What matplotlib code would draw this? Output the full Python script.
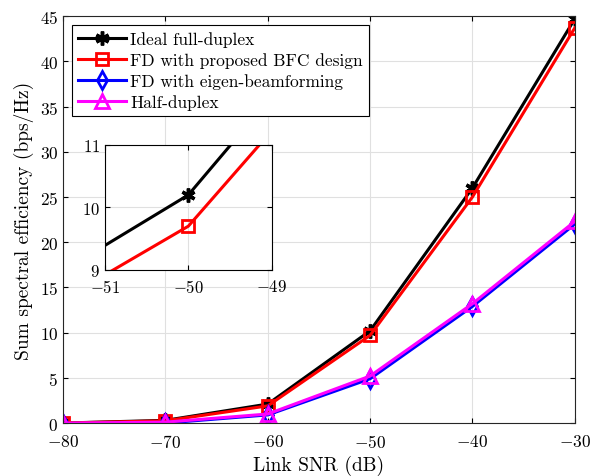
import matplotlib
matplotlib.use('Agg')
import matplotlib.pyplot as plt
import numpy as np

plt.rcParams['font.family'] = 'serif'
plt.rcParams['font.serif'] = ['cmr10', 'DejaVu Serif']
plt.rcParams['mathtext.fontset'] = 'cm'
plt.rcParams['axes.unicode_minus'] = False
plt.rcParams['axes.formatter.use_mathtext'] = True

snr = [-80, -70, -60, -50, -40, -30]
ideal_fd = [0.0, 0.3, 2.1, 10.2, 26.0, 44.7]
fd_bfc = [0.0, 0.25, 1.9, 9.7, 25.0, 43.7]
fd_eigen = [-0.1, 0.0, 0.9, 4.9, 12.9, 22.0]
half_duplex = [0.0, 0.1, 1.0, 5.2, 13.2, 22.3]

labels = ['Ideal full-duplex', 'FD with proposed BFC design',
          'FD with eigen-beamforming', 'Half-duplex']
xticks = [-80, -70, -60, -50, -40, -30]
yticks = list(range(0, 46, 5))

fig = plt.figure(figsize=(5.95, 4.77), dpi=100)
ax = fig.add_axes([0.106, 0.111, 0.860, 0.853])

star = (6, 2, 0)
ax.plot(snr, ideal_fd, color='k', marker=star, ms=10, mew=2.5, lw=2.2, label=labels[0])
ax.plot(snr, fd_bfc, color='r', marker='s', ms=9, mfc='none', mew=2, lw=2.2, label=labels[1])
ax.plot(snr, fd_eigen, color='b', marker='d', ms=9, mfc='none', mew=2, lw=2.2, label=labels[2])
ax.plot(snr, half_duplex, color='#ff00ff', marker='^', ms=10, mfc='none', mew=2, lw=2.2, label=labels[3])

ax.set_xlim(-80, -30)
ax.set_ylim(0, 45)
ax.set_xticks(xticks)
ax.set_yticks(yticks)
ax.tick_params(direction='in', labelsize=12.5, top=True, right=True)
ax.tick_params(axis='x', pad=7)
ax.grid(True, color='#e0e0e0', lw=0.8)
ax.set_axisbelow(True)
ax.set_xlabel('Link SNR (dB)', fontsize=14, labelpad=4)
ax.set_ylabel('Sum spectral efficiency (bps/Hz)', fontsize=14)
for s in ax.spines.values():
    s.set_color('#262626')

leg = ax.legend(loc='upper left', fontsize=12.5, fancybox=False, edgecolor='k',
                framealpha=1, handlelength=2.8, borderaxespad=0.5,
                labelspacing=0.3, handletextpad=0.2, borderpad=0.35)
leg.get_frame().set_linewidth(0.8)

# inset zoom around -50 dB
axin = fig.add_axes([0.176, 0.432, 0.281, 0.262])
axin.plot(snr, ideal_fd, color='k', marker=star, ms=10, mew=2.5, lw=2.2)
axin.plot(snr, fd_bfc, color='r', marker='s', ms=9, mfc='none', mew=2, lw=2.2)
axin.set_xlim(-51, -49)
axin.set_ylim(9, 11)
axin.set_xticks([-51, -50, -49])
axin.set_yticks([9, 10, 11])
axin.tick_params(direction='in', labelsize=12, top=True, right=True)
axin.tick_params(axis='x', pad=6)
axin.grid(True, color='#e0e0e0', lw=0.8)
axin.set_axisbelow(True)

fig.savefig('out.png', dpi=100)
